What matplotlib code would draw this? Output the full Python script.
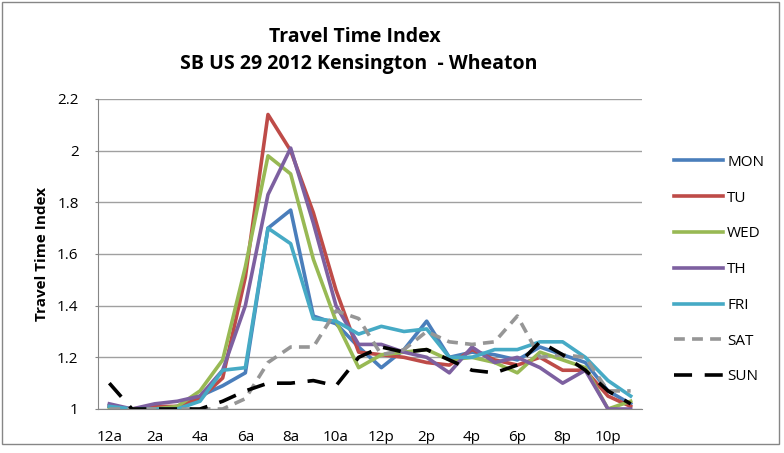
import matplotlib.pyplot as plt
from matplotlib.patches import Rectangle

plt.rcParams['font.family'] = ['Open Sans', 'DejaVu Sans']

hours = list(range(24))
tick_labels = ["12a", "2a", "4a", "6a", "8a", "10a", "12p", "2p", "4p", "6p", "8p", "10p"]

mon = [1.01, 1.00, 1.00, 1.01, 1.05, 1.09, 1.14, 1.70, 1.77, 1.36, 1.33, 1.24,
       1.16, 1.23, 1.34, 1.20, 1.22, 1.21, 1.19, 1.24, 1.21, 1.18, 1.07, 1.02]
tu = [1.01, 1.00, 1.01, 1.01, 1.04, 1.12, 1.51, 2.14, 2.00, 1.76, 1.46, 1.22,
      1.21, 1.20, 1.18, 1.17, 1.23, 1.19, 1.17, 1.20, 1.15, 1.15, 1.05, 1.01]
wed = [1.00, 1.00, 1.00, 1.01, 1.07, 1.19, 1.55, 1.98, 1.91, 1.58, 1.34, 1.16,
       1.21, 1.22, 1.23, 1.19, 1.20, 1.18, 1.14, 1.22, 1.19, 1.16, 1.00, 1.03]
th = [1.02, 1.00, 1.02, 1.03, 1.05, 1.15, 1.40, 1.83, 2.01, 1.72, 1.40, 1.25,
      1.25, 1.22, 1.20, 1.14, 1.24, 1.18, 1.20, 1.16, 1.10, 1.15, 1.00, 1.00]
fri = [1.01, 1.00, 1.00, 1.00, 1.03, 1.15, 1.16, 1.70, 1.64, 1.35, 1.34, 1.29,
       1.32, 1.30, 1.31, 1.20, 1.20, 1.23, 1.23, 1.26, 1.26, 1.20, 1.11, 1.05]
sat = [1.00, 1.00, 1.00, 1.00, 1.00, 1.00, 1.04, 1.18, 1.24, 1.24, 1.38, 1.35,
       1.21, 1.23, 1.30, 1.26, 1.25, 1.26, 1.36, 1.20, 1.21, 1.20, 1.07, 1.07]
sun = [1.10, 1.00, 1.00, 1.00, 1.00, 1.03, 1.07, 1.10, 1.10, 1.11, 1.09, 1.20,
       1.24, 1.22, 1.23, 1.19, 1.15, 1.14, 1.17, 1.26, 1.21, 1.15, 1.07, 1.02]

fig = plt.figure(figsize=(7.84, 4.53), dpi=100)
ax = fig.add_axes([98 / 784, 1 - 409 / 453, 544 / 784, 310 / 453])

lw = 2.6
ax.plot(hours, mon, color="#4A7EBB", lw=lw, label="MON")
ax.plot(hours, tu, color="#BE4B48", lw=lw, label="TU")
ax.plot(hours, wed, color="#98B954", lw=lw, label="WED")
ax.plot(hours, th, color="#7D60A0", lw=lw, label="TH")
ax.plot(hours, fri, color="#46AAC5", lw=lw, label="FRI")
ax.plot(hours, sat, color="#969696", lw=lw, dashes=(3, 2), label="SAT")
ax.plot(hours, sun, color="black", lw=lw, dashes=(5, 3.5), label="SUN")

ax.set_xlim(-0.5, 23.5)
ax.set_ylim(1, 2.2)
ax.set_yticks([1, 1.2, 1.4, 1.6, 1.8, 2, 2.2])
ax.set_yticklabels(["1", "1.2", "1.4", "1.6", "1.8", "2", "2.2"])
ax.set_xticks(hours[::2])
ax.set_xticklabels(tick_labels)
ax.tick_params(axis="both", labelsize=11, colors="black")
ax.tick_params(axis="x", length=0, pad=15)
ax.tick_params(axis="y", length=2, color="#868686", pad=12)
ax.grid(axis="y", color="#A0A0A0", lw=1)
ax.set_axisbelow(True)
for s in ["top", "right"]:
    ax.spines[s].set_visible(False)
for s in ["left", "bottom"]:
    ax.spines[s].set_color("#868686")

ax.set_ylabel("Travel Time Index", fontsize=11, fontweight="bold", labelpad=6)

fig.text(355 / 784, 1 - 37 / 453, "Travel Time Index", ha="center", va="center",
         fontsize=14, fontweight="bold")
fig.text(359 / 784, 1 - 64 / 453, "SB US 29 2012 Kensington  - Wheaton", ha="center",
         va="center", fontsize=14, fontweight="bold")

ax.legend(loc="upper left", bbox_to_anchor=(660 / 784, 1 - 141 / 453),
          bbox_transform=fig.transFigure, frameon=False, fontsize=11,
          handlelength=3.2, handletextpad=0.3, labelspacing=1.36)

fig.patches.append(Rectangle((0.003, 0.02), 0.99, 0.975, transform=fig.transFigure,
                             fill=False, edgecolor="#868686", lw=1))

fig.savefig("out.png", dpi=100)
